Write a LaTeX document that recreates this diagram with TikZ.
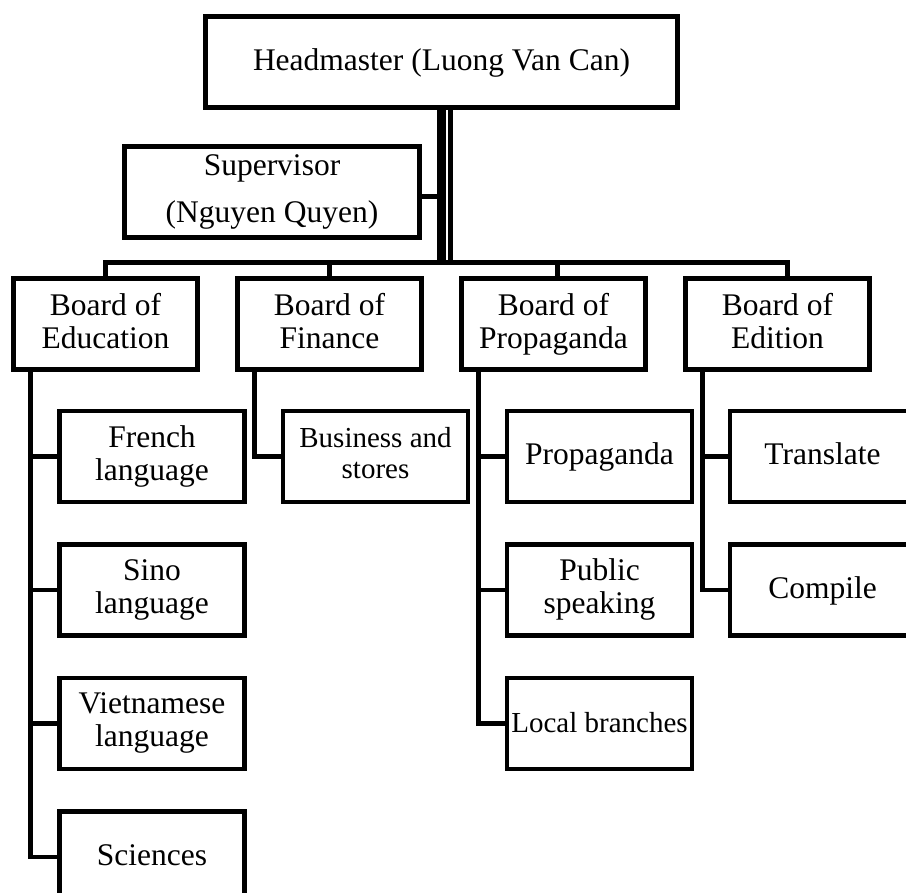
\documentclass[tikz,border=0pt]{standalone}
\usepackage{fontspec}
\setmainfont{Liberation Serif}

\def\boxh{91}
\def\boardw{184}
\def\unitw{185}
\def\lw{4.8pt}
\def\orgstrut{\rule[-7pt]{0pt}{31pt}}

\tikzset{
  orgbox/.style={draw, line width=\lw, inner sep=0pt, align=center,
    minimum height=\boxh pt, font=\fontsize{31.5}{33}\selectfont,
    execute at begin node=\orgstrut, execute at end node=\orgstrut},
  board/.style={orgbox, minimum width=\boardw pt},
  unit/.style={orgbox, minimum width=\unitw pt},
  small/.style={font=\fontsize{29}{31}\selectfont},
  link/.style={line width=\lw},
}

\begin{document}
\begin{tikzpicture}[x=1pt, y=-1pt]
 \useasboundingbox (0,0) rectangle (906,893);
 % Head and supervisor
 \node[orgbox, minimum width=472pt] (head) at (441.5,62) {Headmaster (Luong Van Can)};
 \node[orgbox, minimum width=295pt] (sup) at (272,192) {Supervisor\\[14pt](Nguyen Quyen)};
 % Boards
 \foreach \n/\t [count=\i from 0] in {edu/{Board of\\Education}, fin/{Board of\\Finance},
   prop/{Board of\\Propaganda}, edit/{Board of\\Edition}}
  \node[board] (\n) at (105.5+224*\i,324) {\t};
 % Units of the boards
 \foreach \n/\t [count=\k from 0] in {french/{French\\language}, sino/{Sino\\language},
   viet/{Vietnamese\\language}, sci/Sciences}
  \node[unit] (\n) at (152,456.5+133.5*\k) {\t};
 \node[unit, small] (busi) at (375.5,456.5) {Business and\\stores};
 \node[unit] (propa) at (599.5,456.5) {Propaganda};
 \node[unit] (speak) at (599.5,590) {Public\\speaking};
 \node[unit, small] (local) at (599.5,723.5) {Local branches};
 \node[unit] (trans) at (822.5,456.5) {Translate};
 \node[unit] (comp) at (822.5,590) {Compile};
 % Trunk
 \coordinate (bus) at (441.5,262.5);
 \draw[line width=8.4pt] (head.south) -- (bus);
 \draw[line width=5pt] ([xshift=9.3pt]head.south) -- ([xshift=9.3pt]bus);
 \draw[link] ([yshift=-4.5pt]sup.east) -- ([yshift=-4.5pt]sup.east -| head.south);
 % Bus to the boards
 \draw[link] (edu.north) |- (bus) -| ([xshift=10pt]edit.north);
 \draw[link] (fin.north) -- (fin.north |- bus);
 \draw[link] ([xshift=4pt]prop.north) -- ([xshift=4pt]prop.north |- bus);
 % Boards to their units
 \foreach \b/\u in {edu/french, edu/sino, edu/viet, edu/sci, fin/busi,
   prop/propa, prop/speak, prop/local, edit/trans, edit/comp}
  \draw[link] ([xshift=19pt]\b.south west) |- (\u.west);
\end{tikzpicture}
\end{document}
